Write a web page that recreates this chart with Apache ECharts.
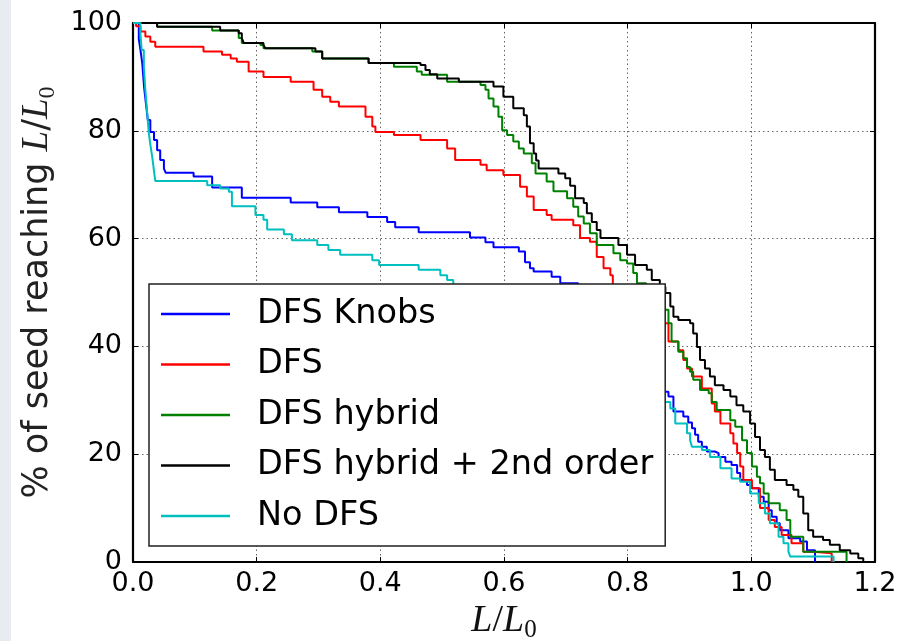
<!DOCTYPE html>
<html>
<head>
<meta charset="utf-8">
<script src="https://cdn.jsdelivr.net/npm/echarts@6/dist/echarts.min.js"></script>
<style>
  html, body { margin: 0; padding: 0; background: #ffffff; }
  #chart { width: 911px; height: 641px; }
</style>
</head>
<body>
<div id="chart"></div>
<script>
// Fraction of seeds still reaching a given L/L0, one survival curve per method.
const seriesNames = ['DFS Knobs', 'DFS', 'DFS hybrid', 'DFS hybrid + 2nd order', 'No DFS'];
const seriesColors = ['#0000ff', '#ff0000', '#008000', '#000000', '#00bfbf'];

const xTicks = [0.0, 0.2, 0.4, 0.6, 0.8, 1.0, 1.2];
const yTicks = [0, 20, 40, 60, 80, 100];

// [L/L0, % of seeds] — each point is where the curve steps down to the new value
const dfsKnobs = [
  [0, 100], [0.0094, 97], [0.012, 95], [0.015, 92.5], [0.018, 88], [0.021, 85], [0.024, 82],
  [0.028, 79.8], [0.034, 78.3], [0.039, 76.4], [0.044, 74.6], [0.050, 73.0], [0.053, 72.2],
  [0.098, 71.5], [0.128, 69.5], [0.176, 67.6], [0.255, 66.7], [0.298, 65.8], [0.333, 64.9],
  [0.379, 64.0], [0.411, 63.1], [0.424, 62.1], [0.462, 61.2], [0.545, 60.2], [0.570, 59.3],
  [0.583, 58.4], [0.624, 57.6], [0.634, 55.6], [0.642, 54.5], [0.648, 53.9], [0.677, 52.9],
  [0.691, 51.7], [0.72, 47.5], [0.76, 42.0], [0.80, 37.0], [0.83, 33.5], [0.85, 31.6],
  [0.866, 30.7], [0.874, 27.9], [0.890, 27.0], [0.898, 25.9], [0.904, 24.8], [0.909, 23.6],
  [0.914, 22.3], [0.920, 21.4], [0.928, 20.5], [0.941, 20.2], [0.947, 19.5], [0.958, 18.6],
  [0.968, 18.0], [0.977, 16.5], [0.982, 15.2], [0.993, 14.3], [1.001, 13.7], [1.012, 12.1],
  [1.020, 11.2], [1.028, 9.6], [1.033, 8.4], [1.041, 7.2], [1.046, 5.9], [1.060, 4.4],
  [1.079, 3.8], [1.090, 2.2], [1.103, 0]
];

const dfs = [
  [0, 100], [0.005, 99.4], [0.012, 98.4], [0.020, 97.5], [0.028, 96.5], [0.036, 95.6],
  [0.114, 94.7], [0.144, 94.1], [0.158, 93.4], [0.168, 92.8], [0.187, 91.0], [0.211, 90.0],
  [0.255, 89.1], [0.292, 87.6], [0.306, 86.3], [0.319, 85.4], [0.333, 84.5], [0.376, 82.6],
  [0.387, 80.8], [0.392, 79.8], [0.422, 79.2], [0.465, 78.3], [0.508, 76.7], [0.521, 74.6],
  [0.562, 73.7], [0.572, 72.7], [0.599, 71.8], [0.626, 69.6], [0.637, 67.8], [0.648, 65.3],
  [0.669, 64.4], [0.677, 63.5], [0.712, 62.5], [0.723, 60.1], [0.739, 59.4], [0.750, 56.6],
  [0.761, 54.5], [0.772, 53.2], [0.776, 51.0], [0.80, 48.5], [0.83, 46.0], [0.85, 44.3],
  [0.866, 40.9], [0.882, 39.3], [0.890, 37.5], [0.896, 35.9], [0.904, 34.4], [0.920, 32.2],
  [0.936, 29.4], [0.941, 27.9], [0.950, 25.7], [0.966, 23.9], [0.971, 22.0], [0.977, 20.2],
  [0.982, 17.7], [0.987, 15.2], [1.001, 13.7], [1.014, 10.0], [1.028, 7.8], [1.038, 6.5],
  [1.049, 5.0], [1.065, 3.5], [1.084, 1.9], [1.100, 1.6], [1.130, 0]
];

const dfsHybrid = [
  [0, 100], [0.039, 99.3], [0.128, 98.6], [0.171, 97.2], [0.176, 96.3], [0.206, 95.9],
  [0.211, 95.3], [0.290, 94.7], [0.306, 93.4], [0.381, 92.6], [0.422, 91.9], [0.459, 91.0],
  [0.467, 90.4], [0.508, 89.1], [0.562, 88.5], [0.570, 87.6], [0.575, 86.0], [0.583, 84.5],
  [0.591, 82.6], [0.597, 80.1], [0.605, 79.2], [0.615, 78.0], [0.624, 76.7], [0.632, 75.8],
  [0.645, 74.0], [0.651, 72.1], [0.669, 70.6], [0.680, 68.8], [0.702, 67.5], [0.712, 65.9],
  [0.720, 64.1], [0.729, 62.8], [0.739, 61.0], [0.750, 58.8], [0.777, 57.3], [0.788, 56.0],
  [0.799, 55.4], [0.809, 53.6], [0.815, 51.7], [0.83, 49.5], [0.85, 46.8], [0.866, 44.3],
  [0.871, 40.9], [0.882, 39.0], [0.890, 37.8], [0.896, 36.2], [0.901, 35.3], [0.906, 33.8],
  [0.917, 31.9], [0.931, 31.3], [0.936, 29.7], [0.944, 28.2], [0.966, 26.3], [0.974, 25.1],
  [0.985, 22.6], [0.993, 20.2], [1.001, 17.7], [1.009, 15.8], [1.014, 14.6], [1.020, 12.7],
  [1.028, 10.9], [1.046, 9.6], [1.057, 7.8], [1.063, 4.7], [1.084, 1.9], [1.154, 0]
];

const dfsHybrid2nd = [
  [0, 100], [0.039, 99.3], [0.141, 98.6], [0.171, 98.1], [0.176, 97.2], [0.179, 96.3],
  [0.211, 95.9], [0.214, 95.3], [0.295, 94.7], [0.306, 93.4], [0.381, 92.6], [0.465, 92.2],
  [0.473, 91.3], [0.480, 90.5], [0.492, 89.7], [0.527, 89.1], [0.583, 88.2], [0.599, 86.3],
  [0.615, 84.2], [0.632, 82.9], [0.637, 80.8], [0.642, 77.7], [0.648, 75.8], [0.652, 74.5],
  [0.656, 73.0], [0.688, 72.1], [0.699, 71.2], [0.707, 69.8], [0.715, 67.5], [0.729, 66.6],
  [0.734, 64.7], [0.742, 63.1], [0.750, 61.6], [0.756, 60.1], [0.785, 58.8], [0.799, 57.0],
  [0.812, 55.1], [0.831, 54.2], [0.839, 52.3], [0.852, 51.0], [0.861, 49.9], [0.869, 47.4],
  [0.874, 45.5], [0.882, 44.9], [0.901, 44.3], [0.906, 42.4], [0.912, 39.9], [0.917, 37.5],
  [0.925, 35.9], [0.933, 34.4], [0.941, 32.8], [0.955, 31.9], [0.966, 30.7], [0.976, 29.1],
  [0.987, 27.9], [0.998, 25.7], [1.006, 23.2], [1.014, 20.8], [1.022, 19.5], [1.030, 17.1],
  [1.038, 15.2], [1.057, 14.3], [1.068, 13.4], [1.076, 12.1], [1.084, 9.0], [1.092, 5.9],
  [1.100, 4.7], [1.116, 4.1], [1.127, 3.2], [1.143, 2.2], [1.160, 1.6], [1.173, 0.7], [1.181, 0]
];

const noDfs = [
  [0, 100], [0.012, 98], [0.014, 95], [0.0175, 91.9], [0.020, 87.5], [0.023, 83.3],
  [0.0255, 79.6], [0.028, 77.5], [0.031, 75.2], [0.034, 72.5], [0.036, 70.7], [0.120, 69.9],
  [0.141, 69.3], [0.155, 68.7], [0.160, 66.0], [0.198, 64.4], [0.211, 63.5], [0.217, 61.7],
  [0.244, 60.8], [0.257, 59.7], [0.298, 58.8], [0.316, 57.9], [0.335, 57.0], [0.387, 56.0],
  [0.398, 55.1], [0.462, 54.2], [0.497, 53.2], [0.508, 52.3], [0.518, 51.4], [0.56, 47.5],
  [0.62, 43.0], [0.68, 39.0], [0.74, 35.0], [0.80, 32.0], [0.85, 29.7], [0.869, 28.5],
  [0.877, 25.7], [0.896, 23.9], [0.901, 22.6], [0.904, 21.4], [0.920, 20.8], [0.933, 19.5],
  [0.950, 17.4], [0.968, 15.5], [0.982, 14.9], [0.998, 12.7], [1.012, 10.9], [1.022, 9.0],
  [1.030, 7.2], [1.044, 4.7], [1.052, 3.5], [1.060, 1.9], [1.063, 1.0], [1.133, 0]
];

const seriesData = [dfsKnobs, dfs, dfsHybrid, dfsHybrid2nd, noDfs];

const SANS = 'DejaVu Sans';
const MATH = 'Liberation Serif';

const chart = echarts.init(document.getElementById('chart'), null, { renderer: 'canvas' });

const gridLine = { show: true, lineStyle: { color: '#666666', width: 1, type: [1.5, 3] } };
const frameLine = { show: true, onZero: false, lineStyle: { color: '#000000', width: 2.2 } };
const innerTick = { show: true, inside: true, length: 5, lineStyle: { color: '#000000', width: 1 } };

chart.setOption({
  animation: false,
  backgroundColor: '#ffffff',
  graphic: [{
    type: 'rect', left: 0, top: 0, z: -10,
    shape: { width: 11, height: 641 },
    style: { fill: '#e8ecf0' }
  }],
  grid: {
    left: 133, top: 23, width: 742, height: 539,
    containLabel: false, outerBoundsMode: 'none'
  },
  xAxis: [{
    type: 'value', min: xTicks[0], max: xTicks[xTicks.length - 1], interval: 0.2,
    position: 'bottom',
    axisLine: frameLine, axisTick: innerTick, splitLine: gridLine,
    axisLabel: {
      color: '#000000', fontFamily: SANS, fontSize: 27, margin: 8,
      formatter: v => v.toFixed(1)
    },
    name: '{i|L}{n|/}{i|L}{s|0}',
    nameLocation: 'middle', nameGap: 36,
    nameTextStyle: {
      rich: {
        i: { fontFamily: MATH, fontStyle: 'italic', fontSize: 38, lineHeight: 44, color: '#111' },
        n: { fontFamily: MATH, fontSize: 38, lineHeight: 44, color: '#111' },
        s: { fontFamily: MATH, fontSize: 25, lineHeight: 28, verticalAlign: 'bottom', color: '#111' }
      }
    }
  }, {
    type: 'value', min: xTicks[0], max: xTicks[xTicks.length - 1], interval: 0.2,
    position: 'top',
    axisLine: frameLine, axisTick: innerTick, splitLine: { show: false },
    axisLabel: { show: false }
  }],
  yAxis: [{
    type: 'value', min: yTicks[0], max: yTicks[yTicks.length - 1], interval: 20,
    position: 'left',
    axisLine: frameLine, axisTick: innerTick, splitLine: gridLine,
    axisLabel: { color: '#000000', fontFamily: SANS, fontSize: 27, margin: 11 },
    name: '{n|% of seed reaching }{i|L}{n|/}{i|L}{s|0}',
    nameLocation: 'middle', nameGap: 72,
    nameTextStyle: {
      rich: {
        n: { fontFamily: SANS, fontSize: 35, lineHeight: 44, color: '#222' },
        i: { fontFamily: MATH, fontStyle: 'italic', fontSize: 37, lineHeight: 44, color: '#222' },
        s: { fontFamily: MATH, fontSize: 24, lineHeight: 27, verticalAlign: 'bottom', color: '#222' }
      }
    }
  }, {
    type: 'value', min: yTicks[0], max: yTicks[yTicks.length - 1], interval: 20,
    position: 'right',
    axisLine: frameLine, axisTick: innerTick, splitLine: { show: false },
    axisLabel: { show: false }
  }],
  legend: {
    left: 149, top: 284,
    orient: 'vertical',
    selectedMode: false,
    backgroundColor: '#ffffff',
    borderColor: '#222222', borderWidth: 1.5, borderRadius: 0,
    padding: [13, 12, 13, 12],
    icon: 'rect',
    itemWidth: 69, itemHeight: 2.5, itemGap: 16.5,
    textStyle: { fontFamily: SANS, fontSize: 33.5, color: '#000000', padding: [0, 0, 0, 22] },
    data: seriesNames,
    z: 10
  },
  series: seriesNames.map((name, i) => ({
    name: name,
    type: 'line',
    step: 'end',
    data: seriesData[i],
    symbol: 'none',
    showSymbol: false,
    color: seriesColors[i],
    lineStyle: { color: seriesColors[i], width: 2 },
    z: 2 + i
  }))
});
</script>
</body>
</html>
